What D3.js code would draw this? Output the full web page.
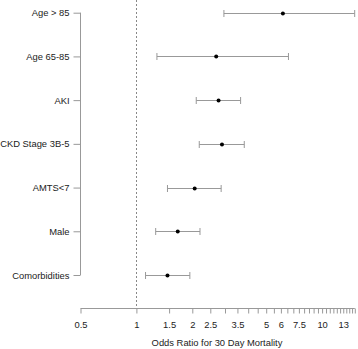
<!DOCTYPE html>
<html>
<head>
<meta charset="utf-8">
<script src="https://cdn.jsdelivr.net/npm/d3@7"></script>
<style>
  body { margin: 0; background: #fff; }
  text { font-family: "Liberation Sans", Arial, sans-serif; fill: #222; }
</style>
</head>
<body>
<div id="chart"></div>
<script>
const labels = ['Age > 85', 'Age 65-85', 'AKI', 'CKD Stage 3B-5', 'AMTS<7', 'Male', 'Comorbidities']
const oddsRatio = [6.15, 2.69, 2.77, 2.89, 2.06, 1.67, 1.47]
const lower = [2.96, 1.29, 2.10, 2.18, 1.47, 1.27, 1.12]
const upper = [14.98, 6.59, 3.64, 3.81, 2.86, 2.20, 1.94]
const tickValues = d3.range(0.5, 15.01, 0.5)
const tickLabels = [0.5, 1, 1.5, 2, 2.5, 3.5, 5, 6, 7.5, 10, 13]

let width = 358
let height = 349
let axisY = 308.5
let fontSize = '9.4px'

let svg = d3.select('#chart').append('svg')
  .attr('width', width)
  .attr('height', height)

let x = d3.scaleLog()
  .domain([0.5, 15])
  .range([80.5, 354.8])

let y = d3.scalePoint()
  .domain(labels)
  .range([12.7, 275])

let data = labels.map(function(d, i) {
  return {label: d, or: oddsRatio[i], lo: lower[i], hi: upper[i]}
})

// reference line at OR = 1
svg.append('line')
  .attr('x1', Math.round(x(1)) + 0.5).attr('x2', Math.round(x(1)) + 0.5)
  .attr('y1', 0).attr('y2', axisY)
  .attr('stroke', '#888')
  .attr('stroke-dasharray', '2,2')

// y axis
let yAxis = svg.append('g')
  .attr('transform', 'translate(80.5,0)')
  .call(d3.axisLeft(y).tickSize(7).tickPadding(4))
yAxis.select('.domain').attr('stroke', '#999').attr('d', 'M0,' + y(labels[0]) + 'V' + y(labels[labels.length - 1]))
yAxis.selectAll('line').attr('stroke', '#999')
yAxis.selectAll('text').attr('font-size', fontSize).attr('fill', '#222')

// x axis
let xAxis = svg.append('g')
  .attr('transform', 'translate(0,' + axisY + ')')
  .call(d3.axisBottom(x)
    .tickValues(tickValues)
    .tickSize(5)
    .tickPadding(8)
    .tickFormat(function(d) { return tickLabels.indexOf(d) >= 0 ? d : '' }))
xAxis.select('.domain').attr('stroke', '#999').attr('d', 'M' + x(0.5) + ',0H' + x(15))
xAxis.selectAll('line').attr('stroke', '#999')
xAxis.selectAll('text').attr('font-size', fontSize).attr('fill', '#222')

svg.append('text')
  .attr('x', 217)
  .attr('y', 346)
  .attr('text-anchor', 'middle')
  .attr('font-size', fontSize)
  .text('Odds Ratio for 30 Day Mortality')

// error bars
let rows = svg.append('g').selectAll('g')
  .data(data)
  .enter().append('g')
  .attr('transform', function(d) { return 'translate(0,' + (Math.round(y(d.label)) + 0.5) + ')' })

rows.append('line')
  .attr('x1', function(d) { return x(d.lo) })
  .attr('x2', function(d) { return x(d.hi) })
  .attr('stroke', '#999')

rows.append('line')
  .attr('x1', function(d) { return x(d.lo) }).attr('x2', function(d) { return x(d.lo) })
  .attr('y1', -3.5).attr('y2', 3.5)
  .attr('stroke', '#999')

rows.append('line')
  .attr('x1', function(d) { return x(d.hi) }).attr('x2', function(d) { return x(d.hi) })
  .attr('y1', -3.5).attr('y2', 3.5)
  .attr('stroke', '#999')

rows.append('circle')
  .attr('cx', function(d) { return x(d.or) })
  .attr('r', 2)
  .attr('fill', '#000')
</script>
</body>
</html>
